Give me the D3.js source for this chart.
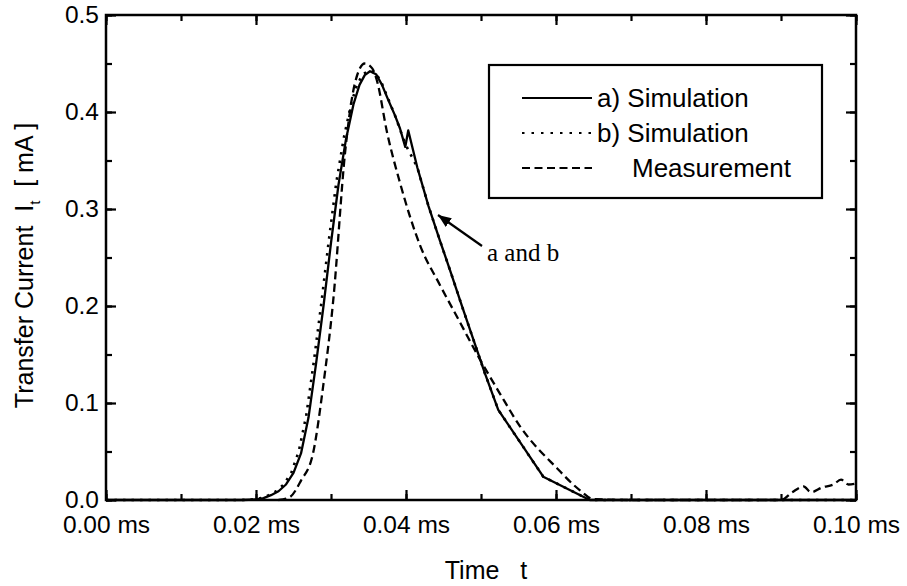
<!DOCTYPE html>
<html>
<head>
<meta charset="utf-8">
<script src="https://cdn.jsdelivr.net/npm/d3@7"></script>
<style>
  body { margin: 0; background: #fff; }
  text { font-family: "Liberation Sans", Arial, sans-serif; fill: #000; }
</style>
</head>
<body>
<div id="chart"></div>
<script>
// time in ms, current in mA
const simA = [
  [0.000, 0], [0.018, 0], [0.020, 0.0005], [0.021, 0.002], [0.022, 0.005], [0.023, 0.009],
  [0.024, 0.016], [0.025, 0.028], [0.026, 0.048], [0.027, 0.085], [0.028, 0.140],
  [0.029, 0.200], [0.030, 0.265], [0.031, 0.325], [0.032, 0.372], [0.033, 0.408],
  [0.0338, 0.428], [0.0345, 0.438], [0.0352, 0.442], [0.036, 0.439], [0.0368, 0.428],
  [0.0376, 0.413], [0.0385, 0.397], [0.0392, 0.383], [0.0399, 0.364], [0.0403, 0.381],
  [0.0415, 0.343], [0.043, 0.303], [0.0445, 0.268], [0.046, 0.234], [0.0475, 0.199],
  [0.049, 0.165], [0.0505, 0.131], [0.0523, 0.093], [0.0583, 0.024], [0.0645, 0.0], [0.100, 0]
];
const simB = [
  [0.000, 0], [0.018, 0], [0.0197, 0.0005], [0.0207, 0.002], [0.0217, 0.005], [0.0227, 0.009],
  [0.0237, 0.016], [0.0247, 0.028], [0.0257, 0.05], [0.0267, 0.087], [0.0277, 0.142],
  [0.0287, 0.202], [0.0297, 0.267], [0.0307, 0.327], [0.0317, 0.373], [0.0327, 0.409],
  [0.0335, 0.429], [0.0343, 0.439], [0.0351, 0.443], [0.036, 0.44], [0.0368, 0.429],
  [0.0376, 0.414], [0.0385, 0.397], [0.0392, 0.382], [0.0399, 0.367], [0.0405, 0.358],
  [0.0415, 0.343], [0.043, 0.303], [0.0445, 0.268], [0.046, 0.234], [0.0475, 0.199],
  [0.049, 0.165], [0.0505, 0.131], [0.0523, 0.093], [0.0583, 0.024], [0.0645, 0.0], [0.100, 0]
];
const measurement = [
  [0.023, 0], [0.0245, 0.003], [0.026, 0.02], [0.0276, 0.048], [0.029, 0.12],
  [0.0303, 0.206], [0.0319, 0.36], [0.0332, 0.43], [0.0345, 0.45], [0.0355, 0.445],
  [0.0361, 0.433], [0.0375, 0.378], [0.0392, 0.327], [0.0419, 0.262], [0.0445, 0.222],
  [0.047, 0.186], [0.0495, 0.15], [0.0525, 0.11], [0.0552, 0.076], [0.0601, 0.033],
  [0.0632, 0.01], [0.065, 0.001], [0.070, 0], [0.090, 0], [0.0915, 0.008], [0.093, 0.014],
  [0.094, 0.008], [0.0955, 0.013], [0.097, 0.016], [0.098, 0.021], [0.099, 0.016], [0.100, 0.017]
];
const xTicks = [0, 0.02, 0.04, 0.06, 0.08, 0.10];
const xTickLabels = ["0.00 ms", "0.02 ms", "0.04 ms", "0.06 ms", "0.08 ms", "0.10 ms"];
const yTicks = [0, 0.1, 0.2, 0.3, 0.4, 0.5];
const legendLabels = ["a) Simulation", "b) Simulation", "Measurement"];

const W = 907, H = 586;
const margin = {top: 15, right: 51, bottom: 86, left: 106};
const width = W - margin.left - margin.right;
const height = H - margin.top - margin.bottom;

const svg = d3.select("#chart").append("svg")
    .attr("width", W)
    .attr("height", H);

const g = svg.append("g")
    .attr("transform", `translate(${margin.left},${margin.top})`);

const x = d3.scaleLinear().domain([0, 0.10]).range([0, width]);
const y = d3.scaleLinear().domain([0, 0.5]).range([height, 0]);

const xMinor = d3.range(0, 0.1001, 0.01);
const yMinor = d3.range(0, 0.5001, 0.05);

function styleAxis(sel) {
    sel.select(".domain").remove();
    sel.selectAll("line").attr("stroke", "#000").attr("stroke-width", 2.2);
    sel.selectAll("text").style("font-size", "24.5px").attr("fill", "#000");
}

// minor ticks (all four sides, inward)
g.append("g").attr("transform", `translate(0,${height})`)
    .call(d3.axisBottom(x).tickValues(xMinor).tickSize(-6).tickFormat(""))
    .call(styleAxis);
g.append("g")
    .call(d3.axisTop(x).tickValues(xMinor).tickSize(-6).tickFormat(""))
    .call(styleAxis);
g.append("g")
    .call(d3.axisLeft(y).tickValues(yMinor).tickSize(-6).tickFormat(""))
    .call(styleAxis);
g.append("g").attr("transform", `translate(${width},0)`)
    .call(d3.axisRight(y).tickValues(yMinor).tickSize(-6).tickFormat(""))
    .call(styleAxis);

// major ticks with labels
g.append("g").attr("transform", `translate(0,${height})`)
    .call(d3.axisBottom(x).tickValues(xTicks).tickSize(-10).tickPadding(16)
        .tickFormat((d, i) => xTickLabels[i]))
    .call(styleAxis);
g.append("g")
    .call(d3.axisTop(x).tickValues(xTicks).tickSize(-10).tickFormat(""))
    .call(styleAxis);
g.append("g")
    .call(d3.axisLeft(y).tickValues(yTicks).tickSize(-10).tickPadding(7)
        .tickFormat(d3.format(".1f")))
    .call(styleAxis);
g.append("g").attr("transform", `translate(${width},0)`)
    .call(d3.axisRight(y).tickValues(yTicks).tickSize(-10).tickFormat(""))
    .call(styleAxis);

// frame
g.append("rect")
    .attr("width", width)
    .attr("height", height)
    .attr("fill", "none")
    .attr("stroke", "#000")
    .attr("stroke-width", 2.5);

// simulations are piecewise linear (kinks visible), measurement is smooth
const simLine = d3.line()
    .x(d => x(d[0]))
    .y(d => y(d[1]));
const measLine = d3.line()
    .x(d => x(d[0]))
    .y(d => y(d[1]))
    .curve(d3.curveMonotoneX);

g.append("path").datum(measurement)
    .attr("d", measLine)
    .attr("fill", "none").attr("stroke", "#000")
    .attr("stroke-width", 2.3).attr("stroke-dasharray", "8,4.5");

g.append("path").datum(simB)
    .attr("d", simLine)
    .attr("fill", "none").attr("stroke", "#000")
    .attr("stroke-linejoin", "round")
    .attr("stroke-width", 2.6).attr("stroke-dasharray", "2.5,6");

g.append("path").datum(simA)
    .attr("d", simLine)
    .attr("fill", "none").attr("stroke", "#000")
    .attr("stroke-linejoin", "round")
    .attr("stroke-width", 2.3);

// legend
const legend = svg.append("g");
legend.append("rect")
    .attr("x", 489).attr("y", 65)
    .attr("width", 333).attr("height", 133)
    .attr("fill", "#fff").attr("stroke", "#000").attr("stroke-width", 2.2);
const legendDash = [null, "2.5,7", "8,4.5"];
const legendTextX = [597, 597, 632];
legendLabels.forEach((lab, i) => {
    const cy = 98 + i * 35;
    legend.append("line")
        .attr("x1", 522).attr("x2", 592)
        .attr("y1", cy).attr("y2", cy)
        .attr("stroke", "#000").attr("stroke-width", 2.2)
        .attr("stroke-dasharray", legendDash[i]);
    legend.append("text")
        .attr("x", legendTextX[i]).attr("y", cy)
        .attr("dy", "0.35em")
        .style("font-size", "26px")
        .text(lab);
});

// annotation
svg.append("defs").append("marker")
    .attr("id", "arrow")
    .attr("viewBox", "0 0 10 10")
    .attr("refX", 10).attr("refY", 5)
    .attr("markerWidth", 6).attr("markerHeight", 6)
    .attr("markerUnits", "strokeWidth")
    .attr("orient", "auto")
    .append("path").attr("d", "M0,1 L10,5 L0,9 Z").attr("fill", "#000");

svg.append("line")
    .attr("x1", 482).attr("y1", 246)
    .attr("x2", 438).attr("y2", 215)
    .attr("stroke", "#000").attr("stroke-width", 2.2)
    .attr("marker-end", "url(#arrow)");

svg.append("text")
    .attr("x", 487).attr("y", 261)
    .style("font-family", "'Liberation Serif', 'Times New Roman', serif")
    .style("font-size", "25px")
    .text("a and b");

// axis titles
svg.append("text")
    .attr("x", 486)
    .attr("y", 579)
    .attr("text-anchor", "middle")
    .style("font-size", "25px")
    .attr("xml:space", "preserve")
    .text("Time   t");

const yTitle = svg.append("text")
    .attr("transform", `translate(33,${margin.top + height / 2 + 8}) rotate(-90)`)
    .attr("text-anchor", "middle")
    .style("font-size", "25px")
    .attr("xml:space", "preserve");
yTitle.append("tspan").text("Transfer Current  I");
yTitle.append("tspan").attr("dy", 7).style("font-size", "15px").text("t");
yTitle.append("tspan").attr("dy", -7).text("  [ mA ]");
</script>
</body>
</html>
